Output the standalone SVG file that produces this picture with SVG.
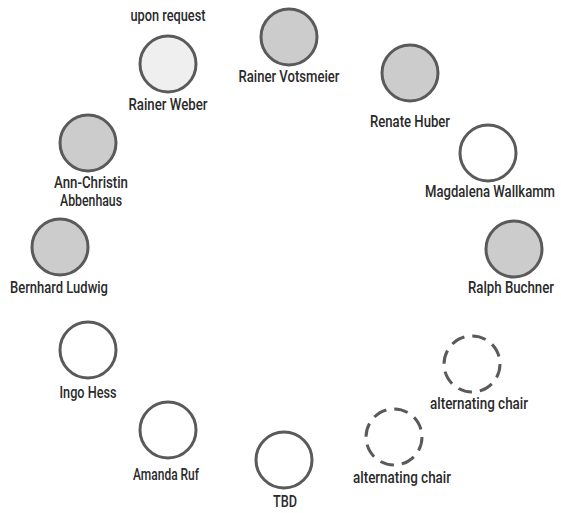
<svg xmlns="http://www.w3.org/2000/svg" width="561" height="513" viewBox="0 0 561 513">
<style>
.n{stroke:#5a5a5a;stroke-width:3;fill:#ffffff}
.g{fill:#cccccc}
.l{fill:#efefef}
.d{stroke-dasharray:14 8}
text{font-family:Roboto,"Liberation Sans",sans-serif;font-size:16px;font-weight:500;fill:#2a2a2a;text-anchor:middle}
</style>
<rect width="561" height="513" fill="#ffffff"/>
<g id="connectors"></g>
<g id="rainer-weber"><circle class="n l" cx="168" cy="64" r="28"/><text x="168" y="21" textLength="75" lengthAdjust="spacingAndGlyphs">upon request</text><text x="168" y="110" textLength="79" lengthAdjust="spacingAndGlyphs">Rainer Weber</text></g>
<g id="rainer-votsmeier"><circle class="n g" cx="289" cy="37" r="28"/><text x="289" y="82" textLength="101" lengthAdjust="spacingAndGlyphs">Rainer Votsmeier</text></g>
<g id="renate-huber"><circle class="n g" cx="410" cy="73" r="28"/><text x="410" y="127" textLength="80" lengthAdjust="spacingAndGlyphs">Renate Huber</text></g>
<g id="magdalena-wallkamm"><circle class="n" cx="488" cy="153" r="28"/><text x="490" y="197" textLength="130" lengthAdjust="spacingAndGlyphs">Magdalena Wallkamm</text></g>
<g id="ann-christin-abbenhaus"><circle class="n g" cx="88" cy="143" r="28"/><text x="91" y="188" textLength="74" lengthAdjust="spacingAndGlyphs">Ann-Christin</text><text x="91" y="206" textLength="62" lengthAdjust="spacingAndGlyphs">Abbenhaus</text></g>
<g id="bernhard-ludwig"><circle class="n g" cx="60" cy="247" r="28"/><text x="59" y="293" textLength="98" lengthAdjust="spacingAndGlyphs">Bernhard Ludwig</text></g>
<g id="ralph-buchner"><circle class="n g" cx="514" cy="249" r="28"/><text x="511" y="293" textLength="86" lengthAdjust="spacingAndGlyphs">Ralph Buchner</text></g>
<g id="alternating-chair-1"><circle class="n d" cx="472" cy="364" r="28"/><text x="479" y="409" textLength="98" lengthAdjust="spacingAndGlyphs">alternating chair</text></g>
<g id="ingo-hess"><circle class="n" cx="88" cy="350" r="28"/><text x="88" y="398" textLength="57" lengthAdjust="spacingAndGlyphs">Ingo Hess</text></g>
<g id="amanda-ruf"><circle class="n" cx="168" cy="430" r="28"/><text x="166" y="480" textLength="66" lengthAdjust="spacingAndGlyphs">Amanda Ruf</text></g>
<g id="alternating-chair-2"><circle class="n d" cx="394" cy="437" r="28"/><text x="402" y="483" textLength="98" lengthAdjust="spacingAndGlyphs">alternating chair</text></g>
<g id="tbd"><circle class="n" cx="284" cy="460" r="28"/><text x="285" y="507" textLength="24" lengthAdjust="spacingAndGlyphs">TBD</text></g>
</svg>
